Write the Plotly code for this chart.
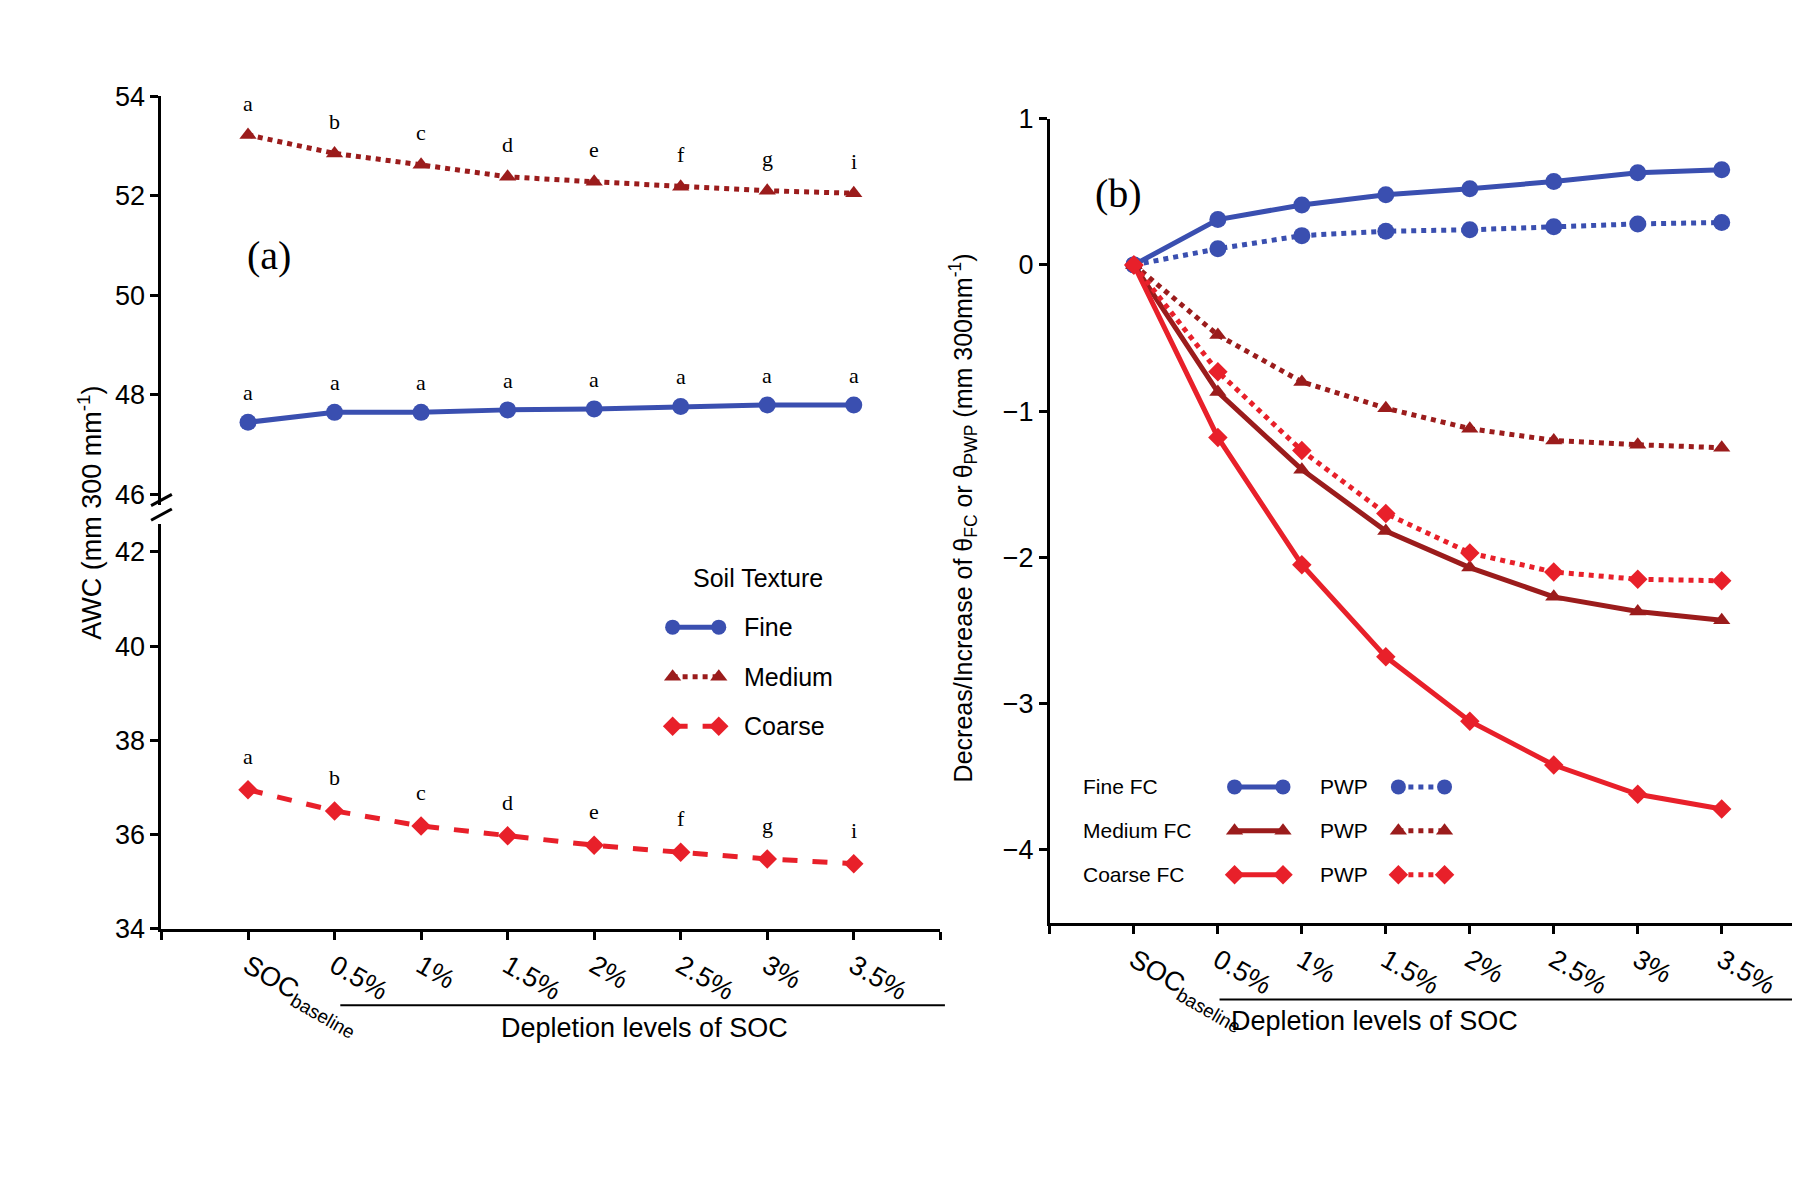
import plotly.graph_objects as go

W, H = 1560, 1040  # reference pixel grid used for layout placement

levels = ["SOC<sub>baseline</sub>", "0.5%", "1%", "1.5%", "2%", "2.5%", "3%", "3.5%"]
pos = list(range(len(levels)))

# panel (a): AWC
awc_fine = [47.45, 47.65, 47.65, 47.70, 47.72, 47.77, 47.80, 47.80]
awc_medium = [53.22, 52.85, 52.62, 52.38, 52.28, 52.18, 52.10, 52.05]
awc_coarse = [36.95, 36.50, 36.18, 35.97, 35.77, 35.62, 35.48, 35.38]
letters_fine = ["a"] * 8
letters_medium = ["a", "b", "c", "d", "e", "f", "g", "i"]
letters_coarse = ["a", "b", "c", "d", "e", "f", "g", "i"]

# panel (b): change of FC / PWP
fine_fc = [0, 0.31, 0.41, 0.48, 0.52, 0.57, 0.63, 0.65]
fine_pwp = [0, 0.11, 0.20, 0.23, 0.24, 0.26, 0.28, 0.29]
medium_fc = [0, -0.87, -1.40, -1.82, -2.07, -2.27, -2.37, -2.43]
medium_pwp = [0, -0.48, -0.80, -0.98, -1.12, -1.20, -1.23, -1.25]
coarse_fc = [0, -1.18, -2.05, -2.68, -3.12, -3.42, -3.62, -3.72]
coarse_pwp = [0, -0.73, -1.27, -1.70, -1.97, -2.10, -2.15, -2.16]

BLUE, DRED, RED = "#3a4fb0", "#9b1c1c", "#e8202a"
SANS = "Liberation Sans"
SERIF = "Liberation Serif"

def px(x):
    return x / W

def py(y):
    return 1 - y / H

fig = go.Figure()

def line(x, y, color, dash, symbol, xa, ya, width=5, size=15):
    fig.add_trace(go.Scatter(x=x, y=y, mode="lines+markers", xaxis=xa, yaxis=ya,
                             line=dict(color=color, width=width, dash=dash),
                             marker=dict(color=color, symbol=symbol, size=size),
                             showlegend=False, hoverinfo="skip", cliponaxis=False))

# panel (a)
line(pos, awc_fine, BLUE, "solid", "circle", "x", "y", size=17)
line(pos, awc_medium, DRED, "dot", "triangle-up", "x", "y")
line(pos, awc_coarse, RED, "dash", "diamond", "x", "y2")

for vals, labs, ya, off in [(awc_fine, letters_fine, "y", 0.3),
                            (awc_medium, letters_medium, "y", 0.35),
                            (awc_coarse, letters_coarse, "y2", 0.4)]:
    for i, (v, t) in enumerate(zip(vals, labs)):
        fig.add_annotation(x=i, y=v + off, xref="x", yref=ya, text=t, showarrow=False,
                           font=dict(family=SERIF, size=22, color="black"), yanchor="bottom")

# panel (b)
line(pos, fine_fc, BLUE, "solid", "circle", "x2", "y3", size=17)
line(pos, fine_pwp, BLUE, "dot", "circle", "x2", "y3", size=17)
line(pos, medium_fc, DRED, "solid", "triangle-up", "x2", "y3")
line(pos, medium_pwp, DRED, "dot", "triangle-up", "x2", "y3")
line(pos, coarse_fc, RED, "solid", "diamond", "x2", "y3")
line(pos, coarse_pwp, RED, "dot", "diamond", "x2", "y3")

# legend glyphs on an overlay pixel-grid axis
def glyph(x0, x1, y, color, dash, symbol, size=15):
    fig.add_trace(go.Scatter(x=[x0, x1], y=[y, y], mode="lines+markers", xaxis="x3", yaxis="y4",
                             line=dict(color=color, width=5, dash=dash),
                             marker=dict(color=color, symbol=symbol, size=size),
                             showlegend=False, hoverinfo="skip", cliponaxis=False))

for y, c, d, s, name in [(537, BLUE, "solid", "circle", "Fine"),
                         (581, DRED, "dot", "triangle-up", "Medium"),
                         (625, RED, "dash", "diamond", "Coarse")]:
    glyph(576, 616, y, c, d, s)
    fig.add_annotation(x=px(636), y=py(y), xref="paper", yref="paper", text=name, showarrow=False,
                       xanchor="left", yanchor="middle", font=dict(family=SANS, size=25, color="black"))
fig.add_annotation(x=px(650), y=py(493), xref="paper", yref="paper", text="Soil Texture",
                   showarrow=False, font=dict(family=SANS, size=25, color="black"))

for y, c, s, name in [(679, BLUE, "circle", "Fine FC"),
                      (718, DRED, "triangle-up", "Medium FC"),
                      (757, RED, "diamond", "Coarse FC")]:
    glyph(1063, 1105, y, c, "solid", s)
    glyph(1205, 1245, y, c, "dot", s)
    fig.add_annotation(x=px(930), y=py(y), xref="paper", yref="paper", text=name, showarrow=False,
                       xanchor="left", yanchor="middle", font=dict(family=SANS, size=21, color="black"))
    fig.add_annotation(x=px(1135), y=py(y), xref="paper", yref="paper", text="PWP", showarrow=False,
                       xanchor="left", yanchor="middle", font=dict(family=SANS, size=21, color="black"))

tick_font = dict(family=SANS, size=27, color="black")
ax_common = dict(showgrid=False, zeroline=False, showline=True, linecolor="black", linewidth=3,
                 ticks="outside", tickwidth=3, ticklen=8, tickcolor="black", tickfont=tick_font)

fig.update_layout(
    width=1800, height=1200, plot_bgcolor="rgba(0,0,0,0)", paper_bgcolor="white",
    margin=dict(l=0, r=0, t=0, b=0),
    xaxis=dict(domain=[px(133), px(808)], range=[-1, 8], anchor="y2",
               tickvals=list(range(-1, 9)), ticktext=[""] + levels + ["", ""], **ax_common),
    yaxis=dict(domain=[py(428), py(65)], range=[45.8, 54], anchor="x", dtick=2, **ax_common),
    yaxis2=dict(domain=[py(805), py(445)], range=[34, 42.6], anchor="x", dtick=2, **ax_common),
    xaxis2=dict(domain=[px(903), px(1558)], range=[-1, 8], anchor="y3",
                tickvals=list(range(-1, 9)), ticktext=[""] + levels + ["", ""], **ax_common),
    yaxis3=dict(domain=[py(800), py(85)], range=[-4.5, 1.0], anchor="x2", dtick=1, **ax_common),
    xaxis3=dict(domain=[0, 1], range=[0, W], visible=False, anchor="y4"),
    yaxis4=dict(domain=[0, 1], range=[H, 0], visible=False, anchor="x3"),
)

# axis break marks and underline bars
for yy in (424, 437):
    fig.add_shape(type="line", xref="paper", yref="paper", x0=px(124), x1=px(142),
                  y0=py(yy + 5), y1=py(yy - 5), line=dict(color="black", width=3))
fig.add_shape(type="line", xref="paper", yref="paper", x0=px(288), x1=px(812), y0=py(873), y1=py(873),
              line=dict(color="black", width=2))
fig.add_shape(type="line", xref="paper", yref="paper", x0=px(1050), x1=px(1560), y0=py(868), y1=py(868),
              line=dict(color="black", width=2))

big = dict(family=SANS, size=27, color="black")
fig.add_annotation(x=px(552), y=py(908), xref="paper", yref="paper", text="Depletion levels of SOC",
                   showarrow=False, font=big)
fig.add_annotation(x=px(1310), y=py(902), xref="paper", yref="paper", text="Depletion levels of SOC",
                   showarrow=False, font=big)
fig.add_annotation(x=px(55), y=py(435), xref="paper", yref="paper", text="AWC (mm 300 mm<sup>-1</sup>)",
                   showarrow=False, textangle=-90, font=big)
fig.add_annotation(x=px(828), y=py(440), xref="paper", yref="paper",
                   text="Decreas/Increase of θ<sub>FC</sub> or θ<sub>PWP</sub> (mm 300mm<sup>-1</sup>)",
                   showarrow=False, textangle=-90, font=dict(family=SANS, size=25, color="black"))
fig.add_annotation(x=px(205), y=py(185), xref="paper", yref="paper", text="(a)", showarrow=False,
                   font=dict(family=SERIF, size=40, color="black"))
fig.add_annotation(x=px(962), y=py(130), xref="paper", yref="paper", text="(b)", showarrow=False,
                   font=dict(family=SERIF, size=40, color="black"))

fig.write_html("out.html")
